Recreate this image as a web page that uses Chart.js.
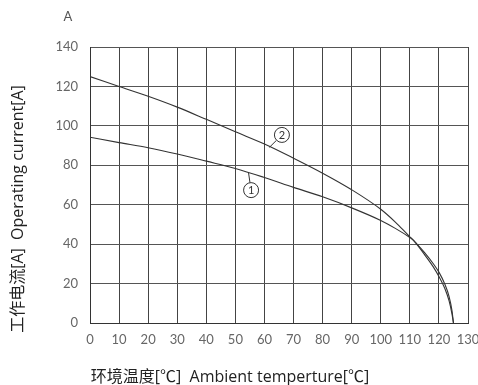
<!DOCTYPE html>
<html lang="zh">
<head>
<meta charset="UTF-8">
<title>Operating current</title>
<script src="https://cdn.jsdelivr.net/npm/chart.js@4.4.3/dist/chart.umd.min.js"></script>
<style>
  html, body { margin: 0; padding: 0; background: #fff; }
  #wrap { width: 478px; height: 385px; }
</style>
</head>
<body>
<div id="wrap"><canvas id="chart" width="478" height="385"></canvas></div>
<script>
// 温度 [°C]
const temp1 = [0, 10, 20, 30, 40, 50, 60, 70, 80, 90, 100, 105, 110, 111, 112, 115, 118, 120, 122, 123.5, 124.5, 125];
// ① 電流 [A]
const curr1 = [94.2, 91.5, 88.9, 85.7, 82.1, 78.4, 73.8, 68.8, 64.0, 58.4, 52.0, 48.0, 43.4, 42.3, 40.8, 35.8, 30.2, 25.8, 19.8, 13.4, 6.2, 0];
const temp2 = [0, 10, 20, 30, 40, 50, 60, 70, 80, 90, 100, 105, 110, 111, 112, 115, 118, 120, 122, 123.5, 124.5, 125];
// ② 電流 [A]
const curr2 = [125, 120, 115, 109.5, 103.3, 97.0, 90.8, 83.6, 76.0, 67.6, 57.7, 51.2, 43.7, 42.3, 40.6, 34.8, 28.6, 23.6, 17.6, 11.2, 4.5, 0];

const xTicks = [0, 10, 20, 30, 40, 50, 60, 70, 80, 90, 100, 110, 120, 130];
const yTicks = [0, 20, 40, 60, 80, 100, 120, 140];

// 曲线编号 [label, 圆心x, 圆心y, 引线x, 引线y]
const marks = [
    ['1', 55.4, 67.4, 54.5, 76.4],
    ['2', 66.0, 95.4, 61.7, 89.1]
];

const xTitle = '环境温度[℃]  Ambient temperture[℃]';
const yTitle = '工作电流[A]  Operating current[A]';
const unitLabel = 'A';

function toPoints(xs, ys) {
    return xs.map((x, i) => ({ x: x, y: ys[i] }));
}

const tickFont = { family: 'Lato, "Noto Sans", sans-serif', size: 13 };
const textColor = '#666';
const titleFont = '16px "Open Sans", "Noto Sans CJK SC", sans-serif';

const decorPlugin = {
    id: 'decor',
    afterDraw(chart) {
        const ctx = chart.ctx;
        const xs = chart.scales.x, ys = chart.scales.y;
        ctx.save();
        // 编号圆圈
        marks.forEach(m => {
            const cx = xs.getPixelForValue(m[1]);
            const cy = ys.getPixelForValue(m[2]);
            const lx = xs.getPixelForValue(m[3]);
            const ly = ys.getPixelForValue(m[4]);
            const r = 7.5;
            const ang = Math.atan2(ly - cy, lx - cx);
            ctx.strokeStyle = '#333';
            ctx.lineWidth = 1;
            ctx.beginPath();
            ctx.moveTo(cx + r * Math.cos(ang), cy + r * Math.sin(ang));
            ctx.lineTo(lx, ly);
            ctx.stroke();
            ctx.fillStyle = '#fff';
            ctx.beginPath();
            ctx.arc(cx, cy, r, 0, Math.PI * 2);
            ctx.fill();
            ctx.stroke();
            ctx.fillStyle = '#333';
            ctx.font = '11px Lato, sans-serif';
            ctx.textAlign = 'center';
            ctx.textBaseline = 'middle';
            ctx.fillText(m[0], cx, cy + 0.5);
        });
        // 单位与轴标题
        ctx.fillStyle = '#555';
        ctx.font = '13px Lato, sans-serif';
        ctx.textAlign = 'center';
        ctx.textBaseline = 'middle';
        ctx.fillText(unitLabel, 68, 17);
        ctx.font = titleFont;
        ctx.fillStyle = '#222';
        ctx.fillText(xTitle, 230, 377);
        ctx.translate(18, 209);
        ctx.rotate(-Math.PI / 2);
        ctx.fillText(yTitle, 0, 0);
        ctx.restore();
    }
};

const lineStyle = {
    borderColor: '#333',
    borderWidth: 1.1,
    pointRadius: 0,
    fill: false,
    cubicInterpolationMode: 'monotone'
};

new Chart(document.getElementById('chart').getContext('2d'), {
    type: 'line',
    data: {
        datasets: [
            Object.assign({ label: '1', data: toPoints(temp1, curr1) }, lineStyle),
            Object.assign({ label: '2', data: toPoints(temp2, curr2) }, lineStyle)
        ]
    },
    plugins: [decorPlugin],
    options: {
        responsive: false,
        animation: false,
        layout: { padding: { left: 0, top: 47, right: 0, bottom: 0 } },
        plugins: {
            legend: { display: false },
            tooltip: { enabled: false }
        },
        scales: {
            x: {
                type: 'linear',
                min: 0,
                max: 130,
                afterBuildTicks: s => { s.ticks = xTicks.map(v => ({ value: v })); },
                afterFit: s => { s.height = 62; s.paddingRight = 10; },
                grid: { color: '#444', lineWidth: 1, drawTicks: false },
                border: { color: '#333', width: 1 },
                ticks: { font: tickFont, color: textColor, padding: 9, maxRotation: 0, autoSkip: false }
            },
            y: {
                type: 'linear',
                min: 0,
                max: 140,
                afterBuildTicks: s => { s.ticks = yTicks.map(v => ({ value: v })); },
                afterFit: s => { s.width = 90; },
                grid: { color: '#555', lineWidth: 1, drawTicks: false },
                border: { color: '#333', width: 1 },
                ticks: { font: tickFont, color: textColor, padding: 12 }
            }
        }
    }
});
</script>
</body>
</html>
